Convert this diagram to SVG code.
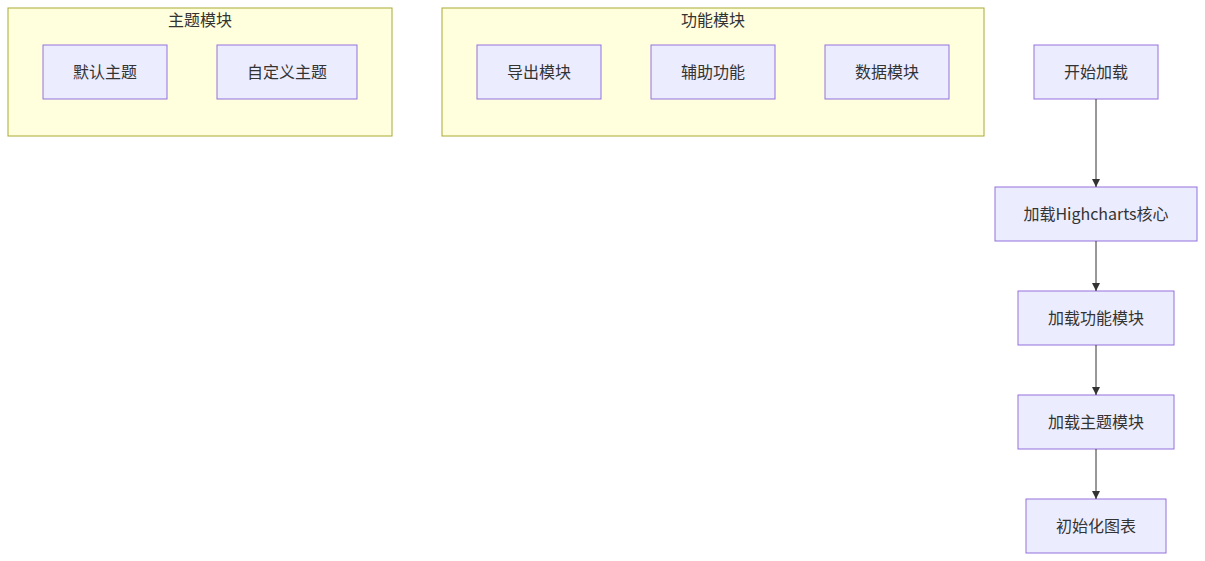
<svg xmlns="http://www.w3.org/2000/svg" width="1205" height="561" viewBox="0 0 1205 561">
<style>
.cluster rect{fill:#ffffde;stroke:#aaaa33;stroke-width:1px}
.node rect{fill:#ECECFF;stroke:#9370DB;stroke-width:1px}
text{font-family:"Noto Sans CJK SC","Liberation Sans",sans-serif;font-size:16px;fill:#333;text-anchor:middle;dominant-baseline:central}
.edge{stroke:#333;stroke-width:1px;fill:none}
</style>
<defs>
<marker id="arrow" viewBox="0 0 10 10" refX="10" refY="5" markerWidth="8" markerHeight="8" markerUnits="userSpaceOnUse" orient="auto">
<path d="M0,0 L10,5 L0,10 z" fill="#333"/>
</marker>
</defs>
<rect width="1205" height="561" fill="#ffffff"/>
<g id="cluster-theme" class="cluster">
<rect x="8" y="8" width="384" height="128"/>
<text x="200" y="18.5">主题模块</text>
</g>
<g id="cluster-func" class="cluster">
<rect x="442" y="8" width="542" height="128"/>
<text x="713" y="18.5">功能模块</text>
</g>
<g id="node-default" class="node"><rect x="43" y="45" width="124" height="54"/><text x="105" y="71">默认主题</text></g>
<g id="node-custom" class="node"><rect x="217" y="45" width="140" height="54"/><text x="287" y="71">自定义主题</text></g>
<g id="node-export" class="node"><rect x="477" y="45" width="124" height="54"/><text x="539" y="71">导出模块</text></g>
<g id="node-access" class="node"><rect x="651" y="45" width="124" height="54"/><text x="713" y="71">辅助功能</text></g>
<g id="node-data" class="node"><rect x="825" y="45" width="124" height="54"/><text x="887" y="71">数据模块</text></g>
<g id="node-start" class="node"><rect x="1034" y="45" width="124" height="54"/><text x="1096" y="71">开始加载</text></g>
<g id="node-core" class="node"><rect x="995" y="187" width="202" height="54"/><text x="1096" y="213">加载Highcharts核心</text></g>
<g id="node-loadfunc" class="node"><rect x="1018" y="291" width="156" height="54"/><text x="1096" y="317">加载功能模块</text></g>
<g id="node-loadtheme" class="node"><rect x="1018" y="395" width="156" height="54"/><text x="1096" y="421">加载主题模块</text></g>
<g id="node-init" class="node"><rect x="1026" y="499" width="140" height="54"/><text x="1096" y="525">初始化图表</text></g>
<g id="connectors">
<path class="edge" d="M1096,99 L1096,187" marker-end="url(#arrow)"/>
<path class="edge" d="M1096,241 L1096,291" marker-end="url(#arrow)"/>
<path class="edge" d="M1096,345 L1096,395" marker-end="url(#arrow)"/>
<path class="edge" d="M1096,449 L1096,499" marker-end="url(#arrow)"/>
</g>
</svg>
